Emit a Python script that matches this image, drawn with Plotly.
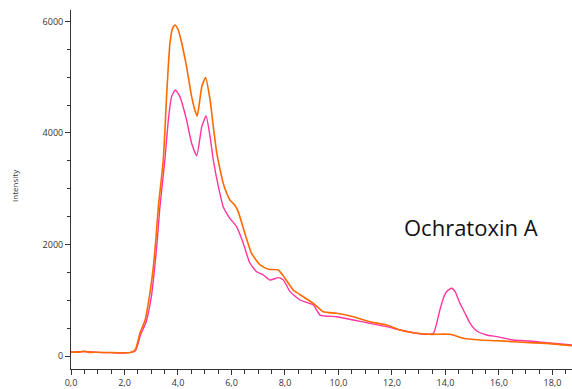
import plotly.graph_objects as go

# Orange trace
orange_x = [0.0, 0.3, 0.5, 0.7, 1.0, 1.5, 2.0, 2.2, 2.4, 2.58, 2.77, 2.95, 3.08, 3.17, 3.27,
            3.45, 3.58, 3.70, 3.80, 3.89, 4.0, 4.14, 4.32, 4.51, 4.64, 4.72, 4.89, 5.03, 5.2,
            5.32, 5.45, 5.57, 5.69, 5.82, 5.94, 6.13, 6.25, 6.50, 6.75, 7.07, 7.38, 7.75, 8.0,
            8.31, 8.68, 9.06, 9.43, 9.93, 10.55, 11.18, 11.8, 12.3, 12.8, 13.42, 14.17, 14.67,
            15.29, 15.91, 16.53, 17.16, 17.78, 18.73]
orange_y = [75, 70, 85, 65, 68, 62, 58, 60, 110, 413, 646, 1130, 1602, 2081, 2700,
            3516, 4713, 5615, 5880, 5938, 5860, 5610, 5190, 4652, 4400, 4306, 4831, 4993, 4593,
            4114, 3637, 3350, 3098, 2919, 2799, 2700, 2589, 2201, 1842, 1633, 1555, 1543, 1394,
            1184, 1064, 945, 795, 766, 705, 615, 556, 466, 418, 389, 389, 317,
            287, 275, 257, 239, 227, 185]

# Pink trace
pink_x = [0.0, 0.5, 1.0, 1.5, 2.0, 2.4, 2.6, 2.8, 3.0, 3.12, 3.22, 3.32, 3.51, 3.64, 3.76,
          3.9, 4.07, 4.32, 4.51, 4.70, 4.89, 5.05, 5.2, 5.32, 5.51, 5.69, 5.94, 6.19, 6.44,
          6.69, 6.94, 7.19, 7.44, 7.75, 7.94, 8.19, 8.56, 9.06, 9.31, 9.93, 10.55, 11.18,
          11.8, 12.3, 12.8, 13.3, 13.55, 13.79, 13.92, 14.04, 14.23, 14.36, 14.54, 14.73,
          14.92, 15.17, 15.54, 15.91, 16.53, 17.16, 17.78, 18.73]
pink_y = [70, 80, 65, 60, 55, 90, 380, 600, 1050, 1550, 2050, 2650, 3516, 4234, 4652,
          4772, 4652, 4234, 3816, 3593, 4114, 4306, 3934, 3516, 3037, 2679, 2470, 2320, 2022,
          1663, 1512, 1453, 1363, 1405, 1363, 1154, 1005, 915, 735, 705, 646, 586,
          526, 466, 418, 389, 407, 825, 1035, 1154, 1214, 1154, 945, 766,
          586, 448, 377, 347, 287, 269, 239, 197]

x_tickvals = [0, 2, 4, 6, 8, 10, 12, 14, 16, 18]
x_ticktext = ["0,0", "2,0", "4,0", "6,0", "8,0", "10,0", "12,0", "14,0", "16,0", "18,0"]
y_tickvals = [0, 2000, 4000, 6000]
y_ticktext = ["0", "2000", "4000", "6000"]

fig = go.Figure()
fig.add_trace(go.Scatter(x=pink_x, y=pink_y, mode="lines",
                         line=dict(color="#FF33A0", width=1.4, shape="spline", smoothing=0.5),
                         showlegend=False))
fig.add_trace(go.Scatter(x=orange_x, y=orange_y, mode="lines",
                         line=dict(color="#FF6A00", width=1.6, shape="spline", smoothing=0.5),
                         showlegend=False))

tickfont = dict(family="Open Sans", size=9, color="#333333")

fig.update_layout(
    width=572, height=389,
    margin=dict(l=71, r=0, t=10, b=20),
    paper_bgcolor="white", plot_bgcolor="white",
    xaxis=dict(range=[0, 18.73], showgrid=False, zeroline=False,
               showline=True, linecolor="#333333", linewidth=1,
               ticks="outside", ticklen=5, tickcolor="#333333",
               tickvals=x_tickvals, ticktext=x_ticktext, tickfont=tickfont,
               minor=dict(dtick=0.5, tick0=0, ticks="outside", ticklen=4, tickcolor="#333333")),
    yaxis=dict(range=[-233, 6206], showgrid=False, zeroline=False,
               showline=True, linecolor="#333333", linewidth=1,
               ticks="outside", ticklen=5, tickcolor="#333333",
               tickvals=y_tickvals, ticktext=y_ticktext, tickfont=tickfont,
               minor=dict(dtick=500, tick0=0, ticks="outside", ticklen=3, tickcolor="#333333")),
    annotations=[
        dict(text="Intensity", xref="paper", yref="paper", x=-71/501 + 15/501, y=0.51,
             xanchor="center", yanchor="middle", textangle=-90, showarrow=False,
             font=dict(family="Open Sans", size=8, color="#333333")),
        dict(text="Ochratoxin A", xref="x", yref="y", x=14.95, y=2314,
             xanchor="center", yanchor="middle", showarrow=False,
             font=dict(family="Open Sans", size=22, color="#111111")),
    ],
)

fig.write_html("out.html", config={"displayModeBar": False},
               post_script="document.body.style.margin='0';document.body.style.overflow='hidden';")
